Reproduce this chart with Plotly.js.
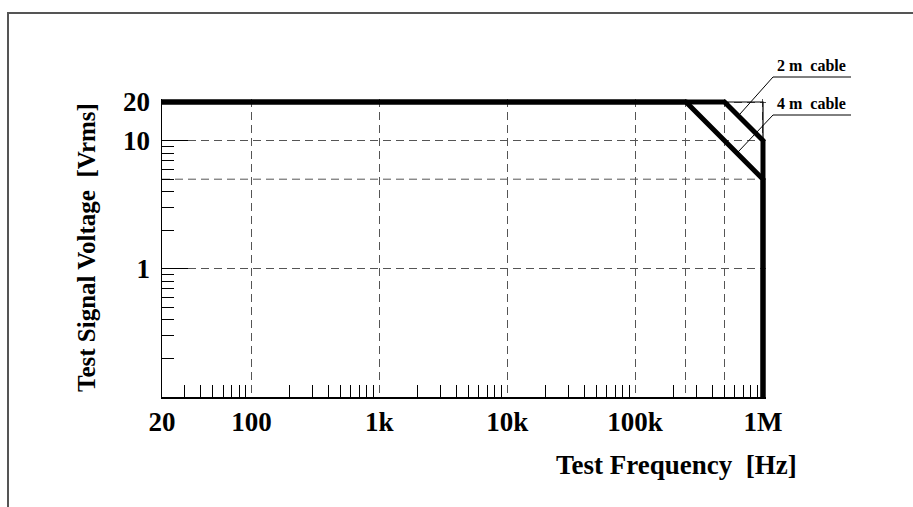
<!DOCTYPE html>
<html>
<head>
<meta charset="utf-8">
<script src="https://cdn.plot.ly/plotly-3.0.1.min.js"></script>
<style>
html,body{margin:0;padding:0;background:#fff;}
#wrap{position:relative;width:913px;height:507px;overflow:hidden;}
#frame{position:absolute;left:7px;top:12px;width:1000px;height:600px;border-left:2px solid #555;border-top:2px solid #555;pointer-events:none;}
#chart{position:absolute;left:0;top:0;width:913px;height:507px;}
</style>
</head>
<body>
<div id="wrap"><div id="chart"></div><div id="frame"></div></div>
<script>
// Data
const cable2mFreq = [20, 5e5, 1e6, 1e6];
const cable2mVolt = [20, 20, 10, 0.1];
const cable4mFreq = [20, 2.5e5, 1e6, 1e6];
const cable4mVolt = [20, 20, 5, 0.1];
const cornerFreq = [5e5, 1e6, 1e6];
const cornerVolt = [20, 20, 10];

const xTickVals = [20, 100, 1e3, 1e4, 1e5, 2.5e5, 5e5, 1e6];
const xTickText = ['20', '100', '1k', '10k', '100k', '', '', '1M'];
const yTickVals = [1, 10, 20];
const yTickText = ['1', '10', '20'];
const yExtraGrid = [5];
const xMinor = [30,40,50,60,70,80,90,200,300,400,500,600,700,800,900,
  2e3,3e3,4e3,5e3,6e3,7e3,8e3,9e3,2e4,3e4,4e4,5e4,6e4,7e4,8e4,9e4,
  2e5,3e5,4e5,5e5,6e5,7e5,8e5,9e5];
const yMinor = [0.2,0.3,0.4,0.5,0.6,0.7,0.8,0.9,2,3,4,5,6,7,8,9];
const labels = ['2\u00a0m\u00a0\u00a0cable', '4\u00a0m\u00a0\u00a0cable'];

const serif = 'Liberation Serif, Times New Roman, serif';
const thick = {color: '#000', width: 5};

const traces = [
  {x: cable2mFreq, y: cable2mVolt, mode: 'lines', line: thick, cliponaxis: false, hoverinfo: 'skip'},
  {x: cable4mFreq, y: cable4mVolt, mode: 'lines', line: thick, cliponaxis: false, hoverinfo: 'skip'},
  {x: cornerFreq, y: cornerVolt, mode: 'lines', line: {color: '#000', width: 1.2}, cliponaxis: false, hoverinfo: 'skip'}
];

const L = 162, T = 99, W = 604, H = 298;
const px = v => (v - L) / W;
const py = v => (T + H - v) / H;
const gridDash = '8px,5px';

const shapes = yExtraGrid.map(v => ({
  type: 'line', xref: 'x domain', yref: 'y', x0: 0, x1: 1, y0: v, y1: v,
  line: {color: '#555', width: 1, dash: gridDash}, layer: 'below'
}));
const leader = (x0, y0, x1, y1) => ({type: 'line', xref: 'paper', yref: 'paper',
  x0: px(x0), y0: py(y0), x1: px(x1), y1: py(y1), line: {color: '#000', width: 1}});
shapes.push(leader(773, 77, 740, 114));
shapes.push(leader(773, 77, 851, 77));
shapes.push(leader(773, 115, 738, 152));
shapes.push(leader(773, 115, 851, 115));

const layout = {
  width: 913, height: 507,
  margin: {l: L, r: 913 - L - W, t: T, b: 507 - T - H},
  paper_bgcolor: '#fff', plot_bgcolor: '#fff',
  showlegend: false,
  xaxis: {
    type: 'log', range: [Math.log10(20), 6.0235], fixedrange: true,
    tickmode: 'array', tickvals: xTickVals, ticktext: xTickText,
    ticks: '', showgrid: true, gridcolor: '#555', gridwidth: 1, griddash: gridDash,
    showline: true, linecolor: '#000', linewidth: 1.5, mirror: false, zeroline: false,
    tickfont: {family: serif, size: 27, color: '#000', weight: 'bold'},
    ticklabelstandoff: 0,
    minor: {tickmode: 'array', tickvals: xMinor, ticks: 'inside', ticklen: 12, tickwidth: 1, tickcolor: '#000', showgrid: false}
  },
  yaxis: {
    type: 'log', range: [-1, Math.log10(20) + 3 / 128], fixedrange: true,
    tickmode: 'array', tickvals: yTickVals, ticktext: yTickText,
    ticks: 'inside', ticklen: 26, tickwidth: 1.2, tickcolor: '#000',
    showgrid: true, gridcolor: '#555', gridwidth: 1, griddash: gridDash,
    showline: true, linecolor: '#000', linewidth: 1.5, mirror: false, zeroline: false,
    tickfont: {family: serif, size: 27, color: '#000', weight: 'bold'},
    ticklabelstandoff: 5,
    minor: {tickmode: 'array', tickvals: yMinor, ticks: 'inside', ticklen: 12, tickwidth: 1, tickcolor: '#000', showgrid: false}
  },
  shapes: shapes,
  annotations: [
    {xref: 'paper', yref: 'paper', x: px(676), y: py(465), xanchor: 'center', yanchor: 'middle',
     text: 'Test Frequency\u00a0\u00a0[Hz]', showarrow: false,
     font: {family: serif, size: 27, color: '#000', weight: 'bold'}},
    {xref: 'paper', yref: 'paper', x: px(86), y: py(248), xanchor: 'center', yanchor: 'middle',
     text: 'Test Signal Voltage\u00a0\u00a0[Vrms]', textangle: -90, showarrow: false,
     font: {family: serif, size: 25, color: '#000', weight: 'bold'}},
    {xref: 'paper', yref: 'paper', x: px(776), y: py(75), xanchor: 'left', yanchor: 'bottom',
     text: labels[0], showarrow: false, borderpad: 0,
     font: {family: serif, size: 16, color: '#000', weight: 'bold'}},
    {xref: 'paper', yref: 'paper', x: px(776), y: py(113), xanchor: 'left', yanchor: 'bottom',
     text: labels[1], showarrow: false, borderpad: 0,
     font: {family: serif, size: 16, color: '#000', weight: 'bold'}}
  ]
};

Plotly.newPlot('chart', traces, layout, {displayModeBar: false, staticPlot: true});
</script>
</body>
</html>
